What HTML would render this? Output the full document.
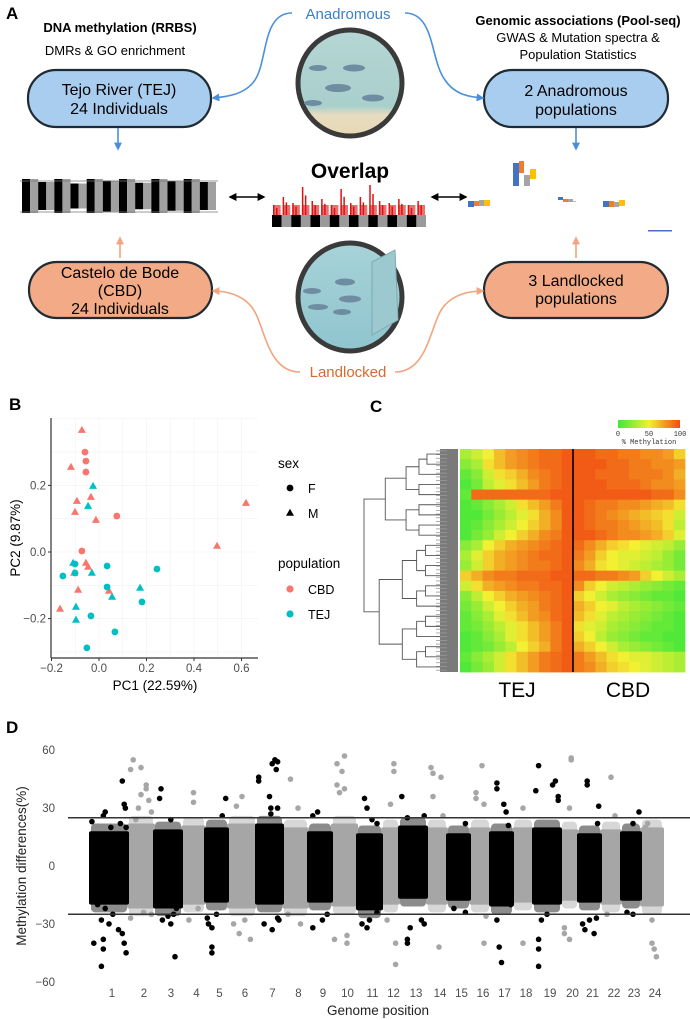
<!DOCTYPE html>
<html><head><meta charset="utf-8">
<style>
html,body{margin:0;padding:0;background:#fff;}
svg{display:block;font-family:"Liberation Sans",Arial,sans-serif;}
.nar{font-family:"Liberation Sans Narrow","Liberation Sans",sans-serif;}
</style></head>
<body>
<svg id="fig" width="690" height="1020" viewBox="0 0 690 1020" xmlns="http://www.w3.org/2000/svg">
<defs>
<marker id="ab" viewBox="0 0 10 10" refX="8" refY="5" markerWidth="5" markerHeight="5" orient="auto"><path d="M0,0L10,5L0,10z" fill="#4a90d9"/></marker>
<marker id="ao" viewBox="0 0 10 10" refX="8" refY="5" markerWidth="5" markerHeight="5" orient="auto"><path d="M0,0L10,5L0,10z" fill="#f2a57e"/></marker>
<marker id="ak" viewBox="0 0 10 10" refX="8" refY="5" markerWidth="5" markerHeight="5" orient="auto-start-reverse"><path d="M0,0L10,5L0,10z" fill="#000"/></marker>
<linearGradient id="cbar" x1="0" x2="1"><stop offset="0" stop-color="#3fe83a"/><stop offset="0.5" stop-color="#f2f032"/><stop offset="1" stop-color="#f24a12"/></linearGradient>
<linearGradient id="water1" x1="0" y1="0" x2="0" y2="1"><stop offset="0" stop-color="#b5d6d4"/><stop offset="0.72" stop-color="#a9cfcc"/><stop offset="0.8" stop-color="#e6dcc0"/><stop offset="1" stop-color="#e8d9b5"/></linearGradient>
<linearGradient id="water2" x1="0" y1="0" x2="0" y2="1"><stop offset="0" stop-color="#a7d2d8"/><stop offset="1" stop-color="#8fc5cf"/></linearGradient>
</defs>

<!-- PANEL A -->
<g>
<text x="6" y="19" font-size="17" font-weight="bold">A</text>
<text class="nar" x="348" y="19" font-size="15" fill="#3a7fc9" text-anchor="middle">Anadromous</text>
<text class="nar" x="348" y="377" font-size="15" fill="#d8692f" text-anchor="middle">Landlocked</text>
<text class="nar" x="120" y="32" font-size="13" font-weight="bold" text-anchor="middle">DNA methylation (RRBS)</text>
<text class="nar" x="115" y="55" font-size="13" text-anchor="middle">DMRs &amp; GO enrichment</text>
<text class="nar" x="578" y="25" font-size="13" font-weight="bold" text-anchor="middle">Genomic associations (Pool-seq)</text>
<text class="nar" x="578" y="42" font-size="13" text-anchor="middle">GWAS &amp; Mutation spectra &amp;</text>
<text class="nar" x="578" y="59" font-size="13" text-anchor="middle">Population Statistics</text>

<g>
<rect x="28" y="70" width="183" height="57" rx="28" fill="#a9cdef" stroke="#1f2a33" stroke-width="2.2"/>
<text class="nar" x="119" y="95" font-size="16" text-anchor="middle">Tejo River (TEJ)</text>
<text class="nar" x="119" y="114" font-size="16" text-anchor="middle">24 Individuals</text></g>
<g>
<rect x="484" y="70" width="184" height="57" rx="28" fill="#a9cdef" stroke="#1f2a33" stroke-width="2.2"/>
<text class="nar" x="576" y="96" font-size="16" text-anchor="middle">2 Anadromous</text>
<text class="nar" x="576" y="115" font-size="16" text-anchor="middle">populations</text></g>
<g>
<rect x="29" y="262" width="183" height="56" rx="28" fill="#f2ab86" stroke="#1f2a33" stroke-width="2.2"/>
<text class="nar" x="120" y="278" font-size="16" text-anchor="middle">Castelo de Bode</text>
<text class="nar" x="120" y="296" font-size="16" text-anchor="middle">(CBD)</text>
<text class="nar" x="120" y="314" font-size="16" text-anchor="middle">24 Individuals</text></g>
<g>
<rect x="484" y="262" width="184" height="56" rx="28" fill="#f2ab86" stroke="#1f2a33" stroke-width="2.2"/>
<text class="nar" x="576" y="286" font-size="16" text-anchor="middle">3 Landlocked</text>
<text class="nar" x="576" y="304" font-size="16" text-anchor="middle">populations</text></g>

<g fill="none" stroke-width="1.6">
<path d="M292,13 C262,13 268,60 255,80 C245,95 225,97 213,98" stroke="#4a90d9" marker-end="url(#ab)"/>
<path d="M405,13 C435,13 430,60 445,80 C455,95 470,97 483,98" stroke="#4a90d9" marker-end="url(#ab)"/>
<path d="M118,128 L118,149" stroke="#4a90d9" marker-end="url(#ab)"/>
<path d="M576,128 L576,149" stroke="#4a90d9" marker-end="url(#ab)"/>
<path d="M120,258 L120,238" stroke="#f2a57e" marker-end="url(#ao)"/>
<path d="M576,258 L576,238" stroke="#f2a57e" marker-end="url(#ao)"/>
<path d="M300,372 C265,372 265,320 250,305 C240,294 225,291 213,291" stroke="#f2a57e" marker-end="url(#ao)"/>
<path d="M395,372 C430,372 430,320 445,305 C455,294 470,291 483,291" stroke="#f2a57e" marker-end="url(#ao)"/>
<path d="M230,197 L264,197" stroke="#000" marker-start="url(#ak)" marker-end="url(#ak)"/>
<path d="M432,197 L466,197" stroke="#000" marker-start="url(#ak)" marker-end="url(#ak)"/>
</g>

<g>
<ellipse cx="350" cy="83" rx="52" ry="53" fill="url(#water1)" stroke="#3a3a3a" stroke-width="5"/>
<g fill="#6f8da0"><ellipse cx="318" cy="68" rx="9" ry="3"/><ellipse cx="354" cy="68" rx="11" ry="3.5"/><ellipse cx="338" cy="88" rx="13" ry="4"/><ellipse cx="373" cy="98" rx="11" ry="3.5"/><ellipse cx="313" cy="103" rx="9" ry="3"/></g></g>
<g>
<ellipse cx="350" cy="297" rx="52" ry="54" fill="url(#water2)" stroke="#3a3a3a" stroke-width="5"/>
<path d="M372,262 L395,250 L398,320 L372,335 Z" fill="#9cc8cf" stroke="#7fa9b2" stroke-width="1"/>
<g fill="#6f8da0"><ellipse cx="345" cy="282" rx="10" ry="3.5"/><ellipse cx="312" cy="291" rx="9" ry="3"/><ellipse cx="350" cy="299" rx="11" ry="3.5"/><ellipse cx="318" cy="307" rx="10" ry="3"/><ellipse cx="342" cy="312" rx="9" ry="3"/></g></g>

<text x="350" y="178" font-size="21" font-weight="bold" text-anchor="middle">Overlap</text>
<g id="miniman"></g>
<g id="minioverlap"></g>
<g>
<rect x="468" y="201" width="6" height="6" fill="#4472c4"/><rect x="474" y="201" width="5" height="5" fill="#ed7d31"/><rect x="479" y="200" width="5" height="6" fill="#a5a5a5"/><rect x="484" y="200" width="6" height="6" fill="#ffc000"/>
<rect x="513" y="163" width="6" height="23" fill="#4472c4"/><rect x="519" y="161" width="5" height="12" fill="#ed7d31"/><rect x="524" y="175" width="6" height="11" fill="#a5a5a5"/><rect x="530" y="169" width="6" height="10" fill="#ffc000"/>
<rect x="558" y="197" width="5" height="3" fill="#4472c4"/><rect x="563" y="199" width="5" height="3" fill="#ed7d31"/><rect x="568" y="199" width="5" height="3" fill="#a5a5a5"/><rect x="573" y="201" width="3" height="1" fill="#ffc000"/>
<rect x="603" y="201" width="6" height="6" fill="#4472c4"/><rect x="609" y="201" width="5" height="6" fill="#ed7d31"/><rect x="614" y="202" width="5" height="5" fill="#a5a5a5"/><rect x="619" y="200" width="6" height="6" fill="#ffc000"/>
<rect x="648" y="230" width="24" height="1.5" fill="#4472c4"/></g>
</g>

<!-- PANEL B -->
<g id="panelB">
<text x="9" y="410" font-size="17" font-weight="bold">B</text>
</g>
<!-- PANEL C -->
<g id="panelC">
<text x="370" y="412" font-size="17" font-weight="bold">C</text>
</g>
<!-- PANEL D -->
<g id="panelD">
<text x="6" y="733" font-size="17" font-weight="bold">D</text>
</g>
</svg>

<script>
const NS = "http://www.w3.org/2000/svg";
function mk(parent, tag, attrs, text) {
  const e = document.createElementNS(NS, tag);
  for (const k in attrs) e.setAttribute(k, attrs[k]);
  if (text !== undefined) e.textContent = text;
  parent.appendChild(e);
  return e;
}

/* ---------- Panel B data ---------- */
const pcaPC1 = [-0.072,-0.118,-0.093,-0.034,-0.101,-0.013,0.619,0.497,-0.055,-0.046,-0.105,-0.088,0.042,-0.164,
  -0.059,-0.055,-0.055,0.075,-0.072,
  -0.025,-0.046,-0.109,-0.030,0.173,0.055,-0.097,-0.097,
  -0.101,-0.101,-0.152,0.034,0.244,0.034,0.181,-0.034,0.067,-0.051];
const pcaPC2 = [0.366,0.255,0.153,0.165,0.120,0.096,0.147,0.018,-0.033,-0.045,-0.063,-0.114,-0.117,-0.171,
  0.300,0.273,0.240,0.108,0.003,
  0.198,0.138,-0.033,-0.063,-0.108,-0.135,-0.165,-0.204,
  -0.036,-0.063,-0.072,-0.042,-0.051,-0.105,-0.150,-0.192,-0.240,-0.288];
const pcaPop = ["CBD","CBD","CBD","CBD","CBD","CBD","CBD","CBD","CBD","CBD","CBD","CBD","CBD","CBD",
  "CBD","CBD","CBD","CBD","CBD",
  "TEJ","TEJ","TEJ","TEJ","TEJ","TEJ","TEJ","TEJ",
  "TEJ","TEJ","TEJ","TEJ","TEJ","TEJ","TEJ","TEJ","TEJ","TEJ"];
const pcaSex = ["M","M","M","M","M","M","M","M","M","M","M","M","M","M",
  "F","F","F","F","F",
  "M","M","M","M","M","M","M","M",
  "F","F","F","F","F","F","F","F","F","F"];
const pcaXTicks = [-0.2,0.0,0.2,0.4,0.6];
const pcaYTicks = [-0.2,0.0,0.2];
const popColors = {CBD:"#F8766D", TEJ:"#00BFC4"};

(function(){
  const g = document.getElementById("panelB");
  const x = v => 99 + v*237.5, y = v => 552 - v*333;
  const L=51,R=258,T=418,B=658;
  const grid = mk(g,"g",{});
  
  
  for (let v=-0.3; v<=0.7; v+=0.1){ const px=x(v); if(px>L&&px<R) mk(grid,"line",{x1:px,x2:px,y1:T,y2:B,stroke:"#f2f2f2","stroke-width":0.6}); }
  for (let v=-0.3; v<=0.4; v+=0.1){ const py=y(v); if(py>T&&py<B) mk(grid,"line",{x1:L,x2:R,y1:py,y2:py,stroke:"#f2f2f2","stroke-width":0.6}); }
  mk(g,"line",{x1:L,x2:L,y1:T,y2:B,stroke:"#333","stroke-width":1.2});
  mk(g,"line",{x1:L,x2:R,y1:B,y2:B,stroke:"#333","stroke-width":1.2});
  pcaXTicks.forEach(v=>{
    mk(g,"line",{x1:x(v),x2:x(v),y1:B,y2:B+3,stroke:"#333"});
    const t=mk(g,"text",{x:x(v),y:B+14,"font-size":11.5,fill:"#4d4d4d","text-anchor":"middle"},v.toFixed(1).replace("-","−"));
    
    
  });
  pcaYTicks.forEach(v=>{
    mk(g,"line",{x1:L-3,x2:L,y1:y(v),y2:y(v),stroke:"#333"});
    const t=mk(g,"text",{x:L-5,y:y(v)+4,"font-size":11.5,fill:"#4d4d4d","text-anchor":"end"},v.toFixed(1).replace("-","−"));
    
    
  });
  const xt=mk(g,"text",{x:155,y:690,"font-size":13.5,"text-anchor":"middle"},"PC1 (22.59%)");
  
  
  const yt=mk(g,"text",{x:0,y:0,"font-size":13.5,"text-anchor":"middle",transform:"translate(20,538) rotate(-90)"},"PC2 (9.87%)");
  
  
  function shape(parent, cx, cy, sex, col){
    if (sex==="F") return mk(parent,"circle",{cx:cx,cy:cy,r:3.4,fill:col});
    return mk(parent,"path",{d:`M${cx},${cy-4.3}L${cx+4},${cy+2.8}L${cx-4},${cy+2.8}Z`,fill:col});
  }
  pcaPC1.forEach((v,i)=>{
    const p = shape(g, x(v), y(pcaPC2[i]), pcaSex[i], popColors[pcaPop[i]]);
    
    
  });
  const lg = mk(g,"g",{});
  
  
  mk(lg,"text",{x:278,y:468,"font-size":13.5},"sex");
  shape(lg,290,488,"F","#000"); mk(lg,"text",{x:308,y:493,"font-size":12.5},"F");
  shape(lg,290,513,"M","#000"); mk(lg,"text",{x:308,y:518,"font-size":12.5},"M");
  mk(lg,"text",{x:278,y:568,"font-size":13.5},"population");
  mk(lg,"circle",{cx:290,cy:589,r:3.6,fill:popColors.CBD}); mk(lg,"text",{x:308,y:594,"font-size":12.5},"CBD");
  mk(lg,"circle",{cx:290,cy:614,r:3.6,fill:popColors.TEJ}); mk(lg,"text",{x:308,y:619,"font-size":12.5},"TEJ");
})();

/* ---------- Panel C data ---------- */
const heatTEJ = [
 [30,40,50,65,75,80,85,90,90,95],[20,30,55,65,75,80,85,90,90,95],[10,20,40,55,60,70,80,85,90,95],
 [5,15,35,45,55,65,75,85,90,95],[10,90,90,90,90,90,90,90,95,95],[5,10,20,30,40,55,65,75,85,95],
 [5,5,15,25,35,45,55,70,80,95],[5,10,20,30,40,50,60,70,80,95],[5,15,25,40,50,60,70,80,85,95],
 [20,30,50,60,70,75,80,85,90,95],[30,45,60,70,75,80,85,90,90,95],[25,40,60,70,75,80,85,85,90,95],
 [60,70,80,85,85,90,90,90,95,95],[40,55,70,75,80,85,85,90,90,95],[20,35,50,60,70,75,80,85,90,95],
 [15,25,40,50,60,70,75,85,90,95],[10,20,30,45,55,65,75,80,90,95],[10,15,25,35,45,55,65,75,85,95],
 [5,10,20,30,45,55,65,75,85,95],[5,10,15,25,35,50,60,70,85,95],[10,20,30,40,55,65,75,85,90,95],
 [5,15,25,40,55,65,75,85,90,95]];
const heatCBD = [
 [95,95,90,90,85,85,80,80,75,60],[95,95,95,90,90,85,85,80,80,75],[95,95,90,90,90,85,85,85,80,70],
 [95,95,95,90,90,90,85,80,80,75],[95,95,95,95,95,95,95,90,90,80],[95,90,85,85,80,80,75,70,65,55],
 [95,90,85,80,75,70,65,60,55,40],[95,90,85,85,80,75,70,65,55,35],[95,95,90,85,80,80,75,70,60,45],
 [90,80,70,60,55,50,45,40,35,25],[85,75,60,50,45,45,40,35,25,15],[80,70,55,50,45,40,35,30,25,15],
 [90,90,85,85,80,75,60,50,40,30],[80,60,50,40,35,30,25,20,15,10],[60,50,40,30,25,20,15,10,10,5],
 [70,60,50,45,35,30,25,20,15,10],[65,55,45,35,30,25,20,15,10,5],[55,45,40,30,25,20,15,10,10,5],
 [60,50,35,25,20,15,10,10,5,5],[70,60,50,40,30,25,20,15,10,5],[85,75,65,55,50,45,45,40,35,30],
 [85,80,70,60,55,50,45,40,35,30]];
const heatGroups = ["TEJ","CBD"];
const colorbarTicks = [0,50,100];

(function(){
  const g = document.getElementById("panelC");
  const HX0=460, HX1=685, HY0=449, HY1=672, DIV=573;
  const nR = heatTEJ.length;
  const rh = (HY1-HY0)/nR;
  function col(v){
    const c0=[63,232,58], c1=[242,240,50], c2=[242,74,18];
    let a,b,t; if(v<=50){a=c0;b=c1;t=v/50;}else{a=c1;b=c2;t=(v-50)/50;}
    return `rgb(${a.map((q,i)=>Math.round(q+(b[i]-q)*t)).join(",")})`;
  }
  const cells = mk(g,"g",{});
  
  
  [heatTEJ, heatCBD].forEach((mat,s)=>{
    const x0 = s===0?HX0:DIV, x1 = s===0?DIV:HX1;
    mat.forEach((row,r)=>{
      const cw=(x1-x0)/row.length;
      row.forEach((v,c)=>{
        const rc = mk(cells,"rect",{x:x0+c*cw,y:HY0+r*rh,width:cw+0.4,height:rh+0.4,fill:col(v)});
        
        
      });
    });
  });
  mk(g,"line",{x1:DIV,x2:DIV,y1:HY0,y2:HY1,stroke:"#000","stroke-width":1.6});
  heatGroups.forEach((n,i)=>{
    const t=mk(g,"text",{x:i===0?517:628,y:697,"font-size":21,"text-anchor":"middle"},n);
    
    
  });
  const lb = mk(g,"g",{});
  
  
  mk(lb,"rect",{x:440,y:HY0,width:18,height:HY1-HY0,fill:"#7a7a7a"});
  for(let i=0;i<60;i++){ const yy=HY0+(i+0.5)*(HY1-HY0)/60; mk(lb,"line",{x1:436,x2:447,y1:yy,y2:yy,stroke:"#9a9a9a","stroke-width":0.8}); }
  const dg = mk(g,"g",{fill:"none",stroke:"#555","stroke-width":0.9});
  
  
  const hx = h => 440 - h*76;
  function build(a,b,h){
    if (b-a<1){ return HY0+(a+0.5)*rh; }
    const m = Math.floor((a+b)/2);
    const y1 = build(a,m,h*0.62), y2 = build(m+1,b,h*0.62);
    const c1 = (m-a<1)?440:hx(h*0.62), c2 = (b-m-1<1)?440:hx(h*0.62);
    mk(dg,"path",{d:`M${c1},${y1}H${hx(h)}V${y2}H${c2}`});
    return (y1+y2)/2;
  }
  const ya = build(0,8,0.72), yb = build(9,21,0.8);
  mk(dg,"path",{d:`M${hx(0.72)},${ya}H${hx(1)}V${yb}H${hx(0.8)}`});
  const cb = mk(g,"g",{});
  
  
  mk(cb,"rect",{x:618,y:420,width:62,height:8,fill:"url(#cbar)"});
  colorbarTicks.forEach(v=>{ mk(cb,"text",{x:618+v/100*62,y:436,"font-size":7,"font-family":"Liberation Mono, monospace","text-anchor":"middle",fill:"#333"},String(v)); });
  mk(cb,"text",{x:649,y:444,"font-size":7,"font-family":"Liberation Mono, monospace","text-anchor":"middle",fill:"#333"},"% Methylation");
})();

/* ---------- Panel D data ---------- */
const chromNames = ["1","2","3","4","5","6","7","8","9","10","11","12","13","14","15","16","17","18","19","20","21","22","23","24"];
const chromLengths = [38,26,28,23,23,28,27,25,24,25,25,17,28,20,23,20,23,20,28,17,23,20,20,22];
const coreTop = [18,22,19,21,20,22,22,20,18,22,17,20,21,20,17,20,18,20,20,19,17,19,18,20];
const coreBot = [-20,-22,-22,-20,-19,-22,-20,-22,-19,-21,-23,-20,-17,-20,-18,-20,-21,-19,-20,-18,-19,-20,-18,-21];
const outlierPos = [
 [0.05,0.3,0.1,0.3,0.35,0.35,0.5,0.6,0.75,0.85,0.9,0.95,0.85,0.9,0.93,0.8,0.4,0.35,0.55,0.95,0.2,0.4],
 [0.2,0.1,0.5,0.5,0.7,0.7,0.4,0.8,0.9,0.3,0.1,0.6,0.9],
 [0.25,0.2,0.6,0.3,0.6,0.7,0.8,0.75,0.5],
 [0.5,0.5,0.3,0.7],
 [0.9,0.75,0.1,0.15,0.3,0.3,0.3,0.5],
 [0.5,0.3,0.4,0.8,0.6,0.2],
 [0.1,0.1,0.6,0.7,0.75,0.8,0.5,0.55,0.8,0.55,0.3,0.6,0.8,0.85],
 [0.3,0.6,0.2,0.7],
 [0.4,0.2,0.2,0.6,0.8],
 [0.5,0.2,0.4,0.2,0.3,0.5,0.1,0.6,0.6],
 [0.3,0.4,0.6,0.8,0.2,0.4,0.5,0.8],
 [0.7,0.7,0.5,0.8,0.8,0.3],
 [0.1,0.3,0.4,0.3,0.3,0.8,0.9,0.9],
 [0.2,0.3,0.3,0.7,0.8,0.6],
 [0.3,0.8,0.8],
 [0.3,0.3,0.6,0.7,0.7,0.8],
 [0.3,0.3,0.6,0.7,0.8,0.3,0.4,0.5,0.9],
 [0.5,0.5],
 [0.1,0.2,0.2,0.2,0.2,0.7,0.8,0.9,0.9,0.5,0.3],
 [0.6,0.6,0.5,0.2,0.5,0.2],
 [0.4,0.4,0.9,0.85,0.2,0.3,0.7,0.5,0.8],
 [0.5,0.7,0.3],
 [0.9,0.6,0.3,0.6],
 [0.3,0.5,0.5,0.6,0.7,0.2]];
const outlierVal = [
 [23,-28,-40,-52,-38,-43,-30,-25,-33,-35,-40,-45,44,32,30,22,28,26,20,20,-20,-22],
 [55,50,51,37,42,40,30,34,28,24,-27,-24,-25],
 [40,35,24,-28,-30,-25,-22,-47,-26],
 [38,33,-28,-22],
 [35,26,-27,-30,-32,-42,-45,-25],
 [36,31,-35,-38,-28,-30],
 [46,44,53,55,50,54,36,30,30,27,-30,-33,-27,-28],
 [45,30,-25,-30],
 [28,26,-32,-28,-25],
 [57,53,49,42,38,40,-38,-40,-36],
 [35,30,24,22,-30,-32,-28,-24],
 [53,49,32,-40,-51,-28],
 [36,25,-32,-38,-40,-28,-30,26],
 [51,48,36,46,26,-42],
 [-22,-24,22],
 [38,35,52,32,-40,-26],
 [43,40,32,28,21,-28,-42,-50,-20],
 [30,-40],
 [39,52,-38,-43,-52,42,44,36,34,-25,-28],
 [56,55,30,-32,-38,-35],
 [44,42,31,22,-30,-33,-35,-28,-27],
 [46,26,-25],
 [28,22,-24,-25],
 [22,-28,-40,-43,-47,20]];
const dYTicks = [60,30,0,-30,-60];
const dThresholds = [25,-25];

(function(){
  const g = document.getElementById("panelD");
  const total = chromLengths.reduce((a,b)=>a+b,0);
  const X0=90, X1=663;
  const xs = gpos => X0 + gpos/total*(X1-X0);
  const y = v => 866 - v*1.93;
  const starts=[]; let acc=0; chromLengths.forEach(l=>{starts.push(acc);acc+=l;});
  dYTicks.forEach(v=>{
    const t=mk(g,"text",{x:55,y:y(v)+4,"font-size":11.5,fill:"#4d4d4d","text-anchor":"end"},String(v).replace("-","−"));
    
    
  });
  const yt=mk(g,"text",{x:0,y:0,"font-size":13.5,fill:"#222","text-anchor":"middle",transform:"translate(26,866) rotate(-90)"},"Methylation differences(%)");
  
  
  const xt=mk(g,"text",{x:378,y:1015,"font-size":13.5,fill:"#222","text-anchor":"middle"},"Genome position");
  
  
  // draw gray first then black so black overlaps slightly like reference
  const order = chromLengths.map((_,i)=>i).sort((a,b)=>(b%2)-(a%2));
  order.forEach(i=>{
    const len = chromLengths[i];
    const colr = i%2===0 ? "#000" : "#a6a6a6";
    const cg = mk(g,"g",{fill:colr});
    
    
    const xa = xs(starts[i])-1, xb = xs(starts[i]+len)+1;
    const core = mk(cg,"rect",{x:xa,y:y(coreTop[i]),width:xb-xa,height:y(coreBot[i])-y(coreTop[i]),rx:2,fill:colr});
    
    
    const halo = mk(cg,"rect",{x:xa+2,y:y(coreTop[i]+4),width:xb-xa-4,height:y(coreBot[i]-4)-y(coreTop[i]+4),rx:4,fill:colr,opacity:0.45});
    
    
    outlierPos[i].forEach((p,k)=>{
      const c = mk(cg,"circle",{cx:xs(starts[i]+p*len),cy:y(outlierVal[i][k]),r:2.8});
      
      
    });
    const lab = mk(g,"text",{x:xs(starts[i]+len/2)+3,y:997,"font-size":11.5,fill:"#4d4d4d","text-anchor":"middle"},chromNames[i]);
    
    
  });
  dThresholds.forEach(v=>{
    const l=mk(g,"line",{x1:68,x2:690,y1:y(v),y2:y(v),stroke:"#333","stroke-width":1.5});
    
    
  });
})();

/* ---------- mini thumbnails in panel A ---------- */
const miniHeights = [1,0.8,1,0.7,1,0.9,1,0.75,1,0.85,1,0.8];
const overlapSpikes = [0.5,0.9,0.6,1.4,0.7,0.8,0.5,1.3,0.6,0.9,1.5,0.7,0.6,0.8,0.5,0.7];
(function(){
  const g = document.getElementById("miniman");
  const n=24, x0=22, x1=216, w=(x1-x0)/n;
  for(let i=0;i<n;i++){
    const c = i%2===0?"#000":"#a0a0a0";
    const h = miniHeights[Math.floor(i/2)];
    mk(g,"rect",{x:x0+i*w,y:196-15*h-2,width:w,height:30*h+4,fill:c});
  }
  mk(g,"line",{x1:20,x2:218,y1:181,y2:181,stroke:"#777","stroke-width":0.8});
  mk(g,"line",{x1:20,x2:218,y1:212,y2:212,stroke:"#777","stroke-width":0.8});
  const g2 = document.getElementById("minioverlap");
  const m=16, a0=272, a1=426, ww=(a1-a0)/m;
  for(let i=0;i<m;i++) mk(g2,"rect",{x:a0+i*ww,y:215,width:ww,height:12,fill:i%2===0?"#000":"#9a9a9a"});
  overlapSpikes.forEach((h,i)=>{
    mk(g2,"rect",{x:a0+i*ww+1,y:215-20*h,width:1.5,height:20*h,fill:"#e01010"});
    mk(g2,"rect",{x:a0+i*ww+4,y:215-14*h,width:1.5,height:14*h,fill:"#e01010"});
    mk(g2,"rect",{x:a0+i*ww+1,y:205,width:ww-2,height:10,fill:"#e01010",opacity:0.6});
  });
})();
</script>
</body></html>
